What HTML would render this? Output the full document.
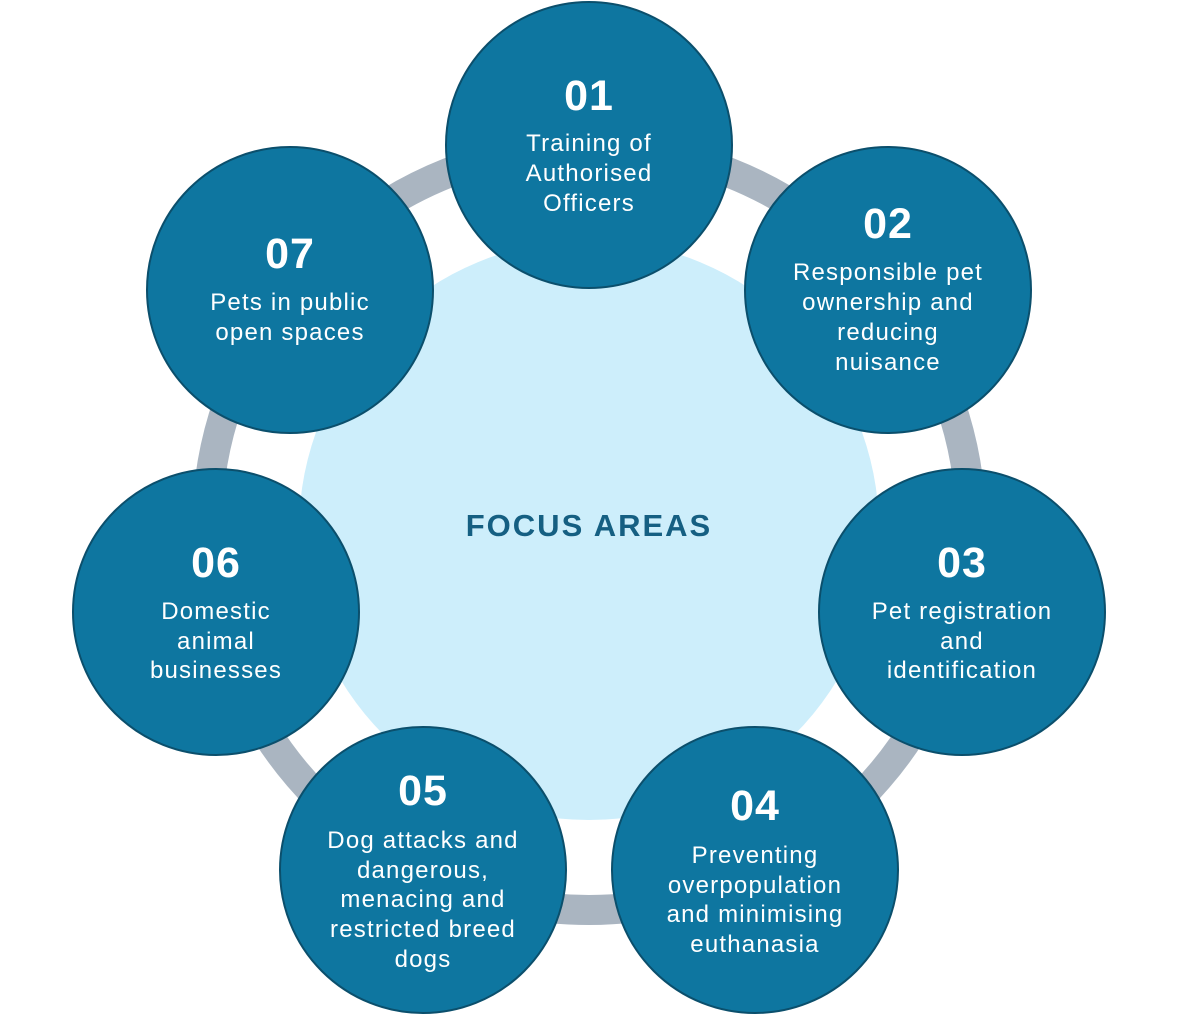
<!DOCTYPE html>
<html><head><meta charset="utf-8"><style>
html,body{margin:0;padding:0;background:#fff;}
svg{display:block;}
.n{font-family:"Liberation Sans",sans-serif;font-weight:bold;font-size:43px;fill:#fff;text-anchor:middle;letter-spacing:1px;}
.t{font-family:"Liberation Sans",sans-serif;font-size:24px;fill:#fff;text-anchor:middle;letter-spacing:1.2px;}
</style></head><body>
<svg width="1178" height="1015" viewBox="0 0 1178 1015">
<circle cx="589" cy="528" r="382" fill="none" stroke="#aab5c1" stroke-width="30"/>
<circle cx="589" cy="530" r="290" fill="#cdeefb"/>
<text x="589" y="536" font-family="Liberation Sans,sans-serif" font-weight="bold" font-size="31" fill="#155f82" text-anchor="middle" letter-spacing="2">FOCUS AREAS</text>
<g fill="#0e76a0" stroke="#0b4f6c" stroke-width="2">
<circle cx="589" cy="145" r="143"/>
<circle cx="888" cy="290" r="143"/>
<circle cx="962" cy="612" r="143"/>
<circle cx="755" cy="870" r="143"/>
<circle cx="423" cy="870" r="143"/>
<circle cx="216" cy="612" r="143"/>
<circle cx="290" cy="290" r="143"/>
</g>
<text class="n" x="589" y="110">01</text>
<text class="t" x="589" y="151">Training of</text>
<text class="t" x="589" y="181">Authorised</text>
<text class="t" x="589" y="211">Officers</text>

<text class="n" x="888" y="238">02</text>
<text class="t" x="888" y="280">Responsible pet</text>
<text class="t" x="888" y="310">ownership and</text>
<text class="t" x="888" y="340">reducing</text>
<text class="t" x="888" y="370">nuisance</text>

<text class="n" x="962" y="577">03</text>
<text class="t" x="962" y="619">Pet registration</text>
<text class="t" x="962" y="649">and</text>
<text class="t" x="962" y="678">identification</text>

<text class="n" x="755" y="820">04</text>
<text class="t" x="755" y="863">Preventing</text>
<text class="t" x="755" y="893">overpopulation</text>
<text class="t" x="755" y="922">and minimising</text>
<text class="t" x="755" y="952">euthanasia</text>

<text class="n" x="423" y="805">05</text>
<text class="t" x="423" y="848">Dog attacks and</text>
<text class="t" x="423" y="878">dangerous,</text>
<text class="t" x="423" y="907">menacing and</text>
<text class="t" x="423" y="937">restricted breed</text>
<text class="t" x="423" y="967">dogs</text>

<text class="n" x="216" y="577">06</text>
<text class="t" x="216" y="619">Domestic</text>
<text class="t" x="216" y="649">animal</text>
<text class="t" x="216" y="678">businesses</text>

<text class="n" x="290" y="268">07</text>
<text class="t" x="290" y="310">Pets in public</text>
<text class="t" x="290" y="340">open spaces</text>
</svg>
</body></html>
